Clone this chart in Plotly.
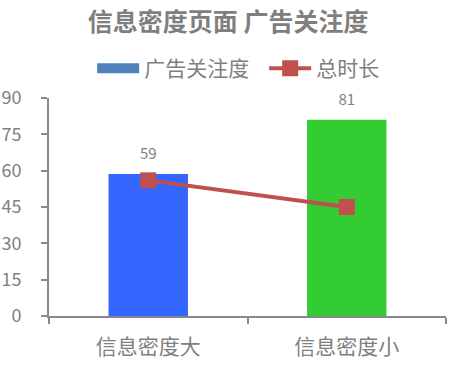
import plotly.graph_objects as go

categories = ["信息密度大", "信息密度小"]
attention = [58.6, 81]
attention_labels = ["59", "81"]
duration = [56, 45]
bar_colors = ["#3366FF", "#33CC33"]

font_family = "Noto Sans CJK SC, Microsoft YaHei, sans-serif"
gray = "#7F7F7F"
axis_gray = "#898989"

fig = go.Figure()
fig.add_trace(go.Bar(
    x=categories, y=attention, width=0.4,
    marker=dict(color=bar_colors, line=dict(width=0)),
    showlegend=False, name="广告关注度", hoverinfo="skip",
))
# data labels above bars
fig.add_trace(go.Scatter(
    x=categories, y=attention, mode="markers+text", text=attention_labels,
    textposition="top center", marker=dict(size=16, opacity=0),
    textfont=dict(size=15, color=gray, family=font_family),
    showlegend=False, cliponaxis=False, hoverinfo="skip",
))
# legend proxy for bar series
fig.add_trace(go.Scatter(
    x=[None], y=[None], mode="lines", name="广告关注度",
    line=dict(color="#4F81BD", width=11),
))
fig.add_trace(go.Scatter(
    x=categories, y=duration, mode="lines+markers", name="总时长",
    line=dict(color="#C0504D", width=4),
    marker=dict(symbol="square", size=16, color="#C0504D"),
))

fig.update_layout(
    width=461, height=368,
    margin=dict(l=49, r=15, t=98, b=52),
    paper_bgcolor="white", plot_bgcolor="white",
    font=dict(family=font_family, color=gray),
    title=dict(text="<b>信息密度页面 广告关注度</b>", x=0.495, xanchor="center",
               y=0.94, yanchor="middle", font=dict(size=25, color=gray, family=font_family)),
    legend=dict(orientation="h", x=0.542, xanchor="center", y=1.135, yanchor="middle",
                font=dict(size=21, color=gray, family=font_family), itemwidth=42,
                entrywidth=115, traceorder="normal"),
    xaxis=dict(range=[-0.5, 1.5], showline=True, linecolor=axis_gray, linewidth=2,
               ticks="outside", tickson="boundaries", ticklen=6, tickcolor=axis_gray, tickwidth=2,
               tickfont=dict(size=21, color=gray), showgrid=False, ticklabelstandoff=11,
               automargin=False),
    yaxis=dict(range=[0, 90], dtick=15, showline=True, linecolor=axis_gray, linewidth=2,
               ticks="outside", ticklen=6, tickcolor=axis_gray, tickwidth=2,
               tickfont=dict(size=18, color=gray), showgrid=False, zeroline=False,
               ticklabelstandoff=16, automargin=False),
)

fig.write_html("out.html")
